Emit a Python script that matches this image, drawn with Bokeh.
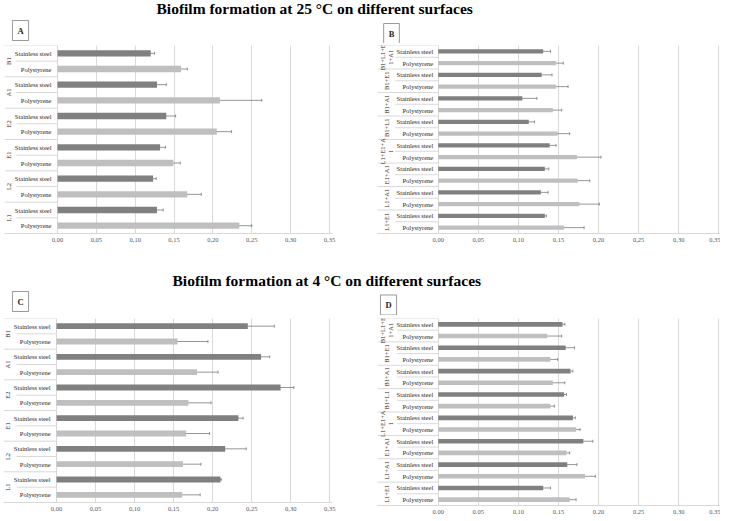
import numpy as np
from bokeh.plotting import figure
from bokeh.models import (Range1d, FixedTicker, ColumnDataSource, Whisker, Label, TeeHead)
from bokeh.layouts import column, row
from bokeh.embed import file_html
from bokeh.resources import INLINE
from bokeh.core.properties import value

# ---------------- data ----------------
surfaces = ["Stainless steel", "Polystyrene"]

groups_single = ["B1", "A1", "E2", "E1", "L2", "L1"]
groups_mix = ["B1+L1+E\n1+A1", "B1+E1", "B1+A1", "B1+L1", "L1+E1+A\n1", "E1+A1", "L1+A1", "L1+E1"]

# A: 25 °C, single strains
a_ss = [0.120, 0.128, 0.140, 0.132, 0.123, 0.128]
a_ss_err = [0.005, 0.012, 0.012, 0.007, 0.004, 0.008]
a_ps = [0.159, 0.209, 0.205, 0.149, 0.167, 0.234]
a_ps_err = [0.008, 0.054, 0.019, 0.009, 0.018, 0.016]

# B: 25 °C, mixed cultures
b_ss = [0.131, 0.129, 0.105, 0.113, 0.139, 0.133, 0.128, 0.133]
b_ss_err = [0.009, 0.013, 0.018, 0.007, 0.008, 0.005, 0.009, 0.002]
b_ps = [0.147, 0.147, 0.143, 0.149, 0.173, 0.174, 0.176, 0.157]
b_ps_err = [0.009, 0.015, 0.011, 0.015, 0.030, 0.015, 0.025, 0.025]

# C: 4 °C, single strains
c_ss = [0.245, 0.262, 0.287, 0.233, 0.216, 0.210]
c_ss_err = [0.034, 0.011, 0.017, 0.006, 0.027, 0.001]
c_ps = [0.155, 0.180, 0.169, 0.166, 0.162, 0.161]
c_ps_err = [0.039, 0.027, 0.029, 0.030, 0.023, 0.023]

# D: 4 °C, mixed cultures
d_ss = [0.155, 0.159, 0.165, 0.157, 0.168, 0.181, 0.161, 0.131]
d_ss_err = [0.003, 0.011, 0.003, 0.003, 0.003, 0.012, 0.012, 0.009]
d_ps = [0.136, 0.140, 0.143, 0.140, 0.172, 0.160, 0.183, 0.164]
d_ps_err = [0.018, 0.009, 0.015, 0.005, 0.005, 0.004, 0.013, 0.008]

tick_values = [0.0, 0.05, 0.10, 0.15, 0.20, 0.25, 0.30, 0.35]
tick_labels = ["0,00", "0,05", "0,10", "0,15", "0,20", "0,25", "0,30", "0,35"]

titles = ["Biofilm formation at 25 °C on different surfaces",
          "Biofilm formation at 4 °C on different surfaces"]
letters = ["A", "B", "C", "D"]

SS_COLOR = "#808080"
PS_COLOR = "#bfbfbf"
GRID = "#d9d9d9"
FONT = "Liberation Serif"


def panel(groups, ss, ss_err, ps, ps_err, frame_w, frame_h, x_start, x_end,
          bl, bt, bb, width, group_px, sub_px, label_gap, bar_h):
    n_rows = 2 * len(groups)
    ys, vals, lows, ups, cols, labs = [], [], [], [], [], []
    gy = []
    for i, g in enumerate(groups):
        y_ss = n_rows - 1 - 2 * i
        y_ps = y_ss - 1
        for y, v, e, c, s in ((y_ss, ss[i], ss_err[i], SS_COLOR, surfaces[0]),
                              (y_ps, ps[i], ps_err[i], PS_COLOR, surfaces[1])):
            ys.append(y); vals.append(v); lows.append(v - e); ups.append(v + e)
            cols.append(c); labs.append(s)
        gy.append((y_ss + y_ps) / 2)
    src = ColumnDataSource(dict(y=ys, val=vals, lower=lows, upper=ups, color=cols, label=labs))
    gsrc = ColumnDataSource(dict(y=gy, label=groups))

    p = figure(frame_width=frame_w, frame_height=frame_h,
               x_range=Range1d(x_start, x_end), y_range=Range1d(-0.5, n_rows - 0.5),
               toolbar_location=None, output_backend="svg",
               min_border_left=bl, min_border_top=bt, min_border_bottom=bb,
               min_border_right=width - bl - frame_w, outline_line_color=None)
    p.yaxis.visible = False
    p.ygrid.grid_line_color = None
    ticker = FixedTicker(ticks=tick_values)
    p.xaxis.ticker = ticker
    p.xgrid.ticker = ticker
    p.xgrid.grid_line_color = GRID
    p.xgrid.grid_line_width = 1
    p.xaxis.major_label_overrides = {t: l for t, l in zip(tick_values, tick_labels)}
    p.xaxis.axis_line_color = GRID
    p.xaxis.major_tick_line_color = None
    p.xaxis.minor_tick_line_color = None
    p.xaxis.major_tick_out = 0
    p.xaxis.major_tick_in = 0
    p.xaxis.minor_tick_out = 0
    p.xaxis.major_label_standoff = 4
    p.xaxis.major_label_text_font = FONT
    p.xaxis.major_label_text_font_size = "6.5px"
    p.xaxis.major_label_text_color = "#595959"

    px_per_unit = frame_w / (x_end - x_start)

    # separators of the category column
    gsep_y = [n_rows - 0.5 - 2 * i for i in range(len(groups))]
    p.segment(x0=x_start, x1=0, y0=gsep_y, y1=gsep_y, line_color=GRID, line_width=1)
    ssep_y = [n_rows - 1.5 - 2 * i for i in range(len(groups))]
    p.segment(x0=-sub_px / px_per_unit, x1=0, y0=ssep_y, y1=ssep_y, line_color=GRID, line_width=1)

    p.hbar(y="y", left=0, right="val", height=bar_h, fill_color="color", line_color=None, source=src)
    w = Whisker(source=src, base="y", lower="lower", upper="upper", dimension="width",
                line_color="#6a6a6a", line_width=0.7,
                upper_head=TeeHead(size=3, line_color="#6a6a6a", line_width=0.7),
                lower_head=TeeHead(size=3, line_color="#6a6a6a", line_width=0.7))
    p.add_layout(w)

    p.text(x=0, y="y", text="label", source=src, x_offset=-label_gap, text_align="right",
           text_baseline="middle", text_font=value(FONT), text_font_size="6.5px",
           text_color="#262626")
    p.text(x=0, y="y", text="label", source=gsrc, x_offset=-group_px, angle=np.pi / 2,
           text_align="center", text_baseline="middle", text_font=value(FONT),
           text_font_size="6.5px", text_color="#262626", text_line_height=1.1)
    return p


def header_fig(text, height, tx, ty, boxes):
    p = figure(width=720, height=height, x_range=Range1d(0, 1), y_range=Range1d(0, 1),
               toolbar_location=None, output_backend="svg", min_border=0,
               outline_line_color=None)
    p.axis.visible = False
    p.grid.grid_line_color = None
    p.add_layout(Label(x=tx, y=ty, x_units="screen", y_units="screen", text=text,
                       text_align="left", text_baseline="middle", text_font=FONT,
                       text_font_size="15.5px", text_font_style="bold", text_color="black"))
    for letter, bx, by in boxes:
        p.add_layout(Label(x=bx, y=by, x_units="screen", y_units="screen", text=letter,
                           text_align="center", text_baseline="middle", text_font=FONT,
                           text_font_size="8.5px", text_font_style="bold", text_color="#262626",
                           border_line_color="#808080", border_line_width=0.8,
                           background_fill_color="white", padding=5))
    return p


h1 = header_fig(titles[0], 43, 156, 35, [(letters[0], 20, 13), (letters[1], 391, 10)])
pa = panel(groups_single, a_ss, a_ss_err, a_ps, a_ps_err, 328, 188, -0.0682, 0.3539,
           4, 1, 26, 372, 49, 41, 6, 0.4)
pb = panel(groups_mix, b_ss, b_ss_err, b_ps, b_ps_err, 343, 188, -0.0757, 0.3521,
           5, 2, 25, 348, 52, 43, 5, 0.38)
h2 = header_fig(titles[1], 57, 172, 35.5, [(letters[2], 20, 14), (letters[3], 388, 10.5)])
pc = panel(groups_single, c_ss, c_ss_err, c_ps, c_ps_err, 329, 184, -0.0679, 0.3535,
           3, 3, 11, 372, 49, 40, 6, 0.38)
pd = panel(groups_mix, d_ss, d_ss_err, d_ps, d_ps_err, 343, 187, -0.0757, 0.3521,
           5, 1, 10, 348, 52, 41, 5, 0.4)

layout = column(h1, row(pa, pb), h2, row(pc, pd), spacing=0)
open("out.html", "w").write(file_html(layout, INLINE))
